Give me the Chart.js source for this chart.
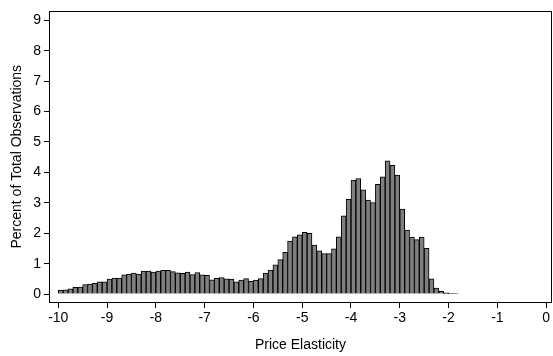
<!DOCTYPE html>
<html lang="en">
<head>
  <meta charset="UTF-8">
  <title>Price Elasticity Histogram</title>
  <script src="https://cdn.jsdelivr.net/npm/chart.js"></script>
  <style>
    html, body {
      margin: 0;
      padding: 0;
      background: #fff;
    }
    #wrap {
      width: 553px;
      height: 356px;
    }
  </style>
</head>
<body>
  <div id="wrap"><canvas id="elasticityChart"></canvas></div>

  <script>
    // histogram bins: width 0.1, first bin starts at -10
    const binStart = -10;
    const binWidth = 0.1;
    const percentObs = [
      0.13, 0.14, 0.17, 0.22, 0.23, 0.31, 0.33, 0.35, 0.40, 0.40,
      0.49, 0.53, 0.53, 0.63, 0.65, 0.69, 0.66, 0.76, 0.76, 0.72,
      0.76, 0.78, 0.78, 0.74, 0.70, 0.68, 0.72, 0.64, 0.71, 0.63,
      0.62, 0.47, 0.52, 0.54, 0.50, 0.49, 0.40, 0.46, 0.51, 0.42,
      0.46, 0.51, 0.69, 0.79, 0.96, 1.13, 1.37, 1.74, 1.88, 1.95,
      2.03, 2.00, 1.61, 1.42, 1.33, 1.33, 1.49, 1.88, 2.57, 3.11,
      3.75, 3.80, 3.43, 3.09, 3.01, 3.61, 3.85, 4.38, 4.23, 3.91,
      2.79, 2.10, 1.87, 1.79, 1.87, 1.50, 0.50, 0.20, 0.09, 0.04,
      0.02, 0.01
    ];
    const xTicks = [-10, -9, -8, -7, -6, -5, -4, -3, -2, -1, 0];
    const yTicks = [0, 1, 2, 3, 4, 5, 6, 7, 8, 9];

    const points = percentObs.map((v, i) => ({
      x: binStart + binWidth * (i + 0.5),
      y: v
    }));

    // box around the plot region
    const frame = {
      id: 'frame',
      afterDraw(chart) {
        const a = chart.chartArea;
        const c = chart.ctx;
        c.save();
        c.strokeStyle = '#000';
        c.lineWidth = 1;
        c.strokeRect(Math.round(a.left) + 0.5, Math.round(a.top) + 0.5,
          Math.round(a.right - a.left) - 1, Math.round(a.bottom - a.top));
        c.restore();
      }
    };

    Chart.defaults.font.family = 'Arial, "Liberation Sans", sans-serif';
    Chart.defaults.font.size = 14;
    Chart.defaults.color = '#000';

    new Chart(document.getElementById('elasticityChart'), {
      type: 'bar',
      data: {
        datasets: [{
          data: points,
          backgroundColor: '#7f7f7f',
          borderColor: '#000',
          borderWidth: 1,
          barPercentage: 1,
          categoryPercentage: 1
        }]
      },
      options: {
        responsive: true,
        maintainAspectRatio: false,
        animation: false,
        layout: { padding: { top: 6, right: 1, left: 0, bottom: 0 } },
        plugins: {
          legend: { display: false },
          tooltip: { enabled: false }
        },
        scales: {
          x: {
            type: 'linear',
            offset: false,
            min: -10.19,
            max: 0.12,
            afterBuildTicks: axis => { axis.ticks = xTicks.map(v => ({ value: v })); },
            afterFit: axis => { axis.height = 54; },
            grid: { drawOnChartArea: false, drawTicks: true, tickLength: 6, color: '#000', offset: false },
            border: { display: false },
            ticks: { padding: 2, maxRotation: 0, autoSkip: false },
            title: { display: true, text: 'Price Elasticity', padding: { top: 0, bottom: 2 } }
          },
          y: {
            type: 'linear',
            min: -0.26,
            max: 9.29,
            afterBuildTicks: axis => { axis.ticks = yTicks.map(v => ({ value: v })); },
            afterFit: axis => { axis.width = 49; },
            grid: { drawOnChartArea: false, drawTicks: true, tickLength: 5, color: '#000' },
            border: { display: false },
            ticks: { padding: 3 },
            title: { display: true, text: 'Percent of Total Observations', padding: { top: 9, bottom: 0 } }
          }
        }
      },
      plugins: [frame]
    });
  </script>
</body>
</html>
